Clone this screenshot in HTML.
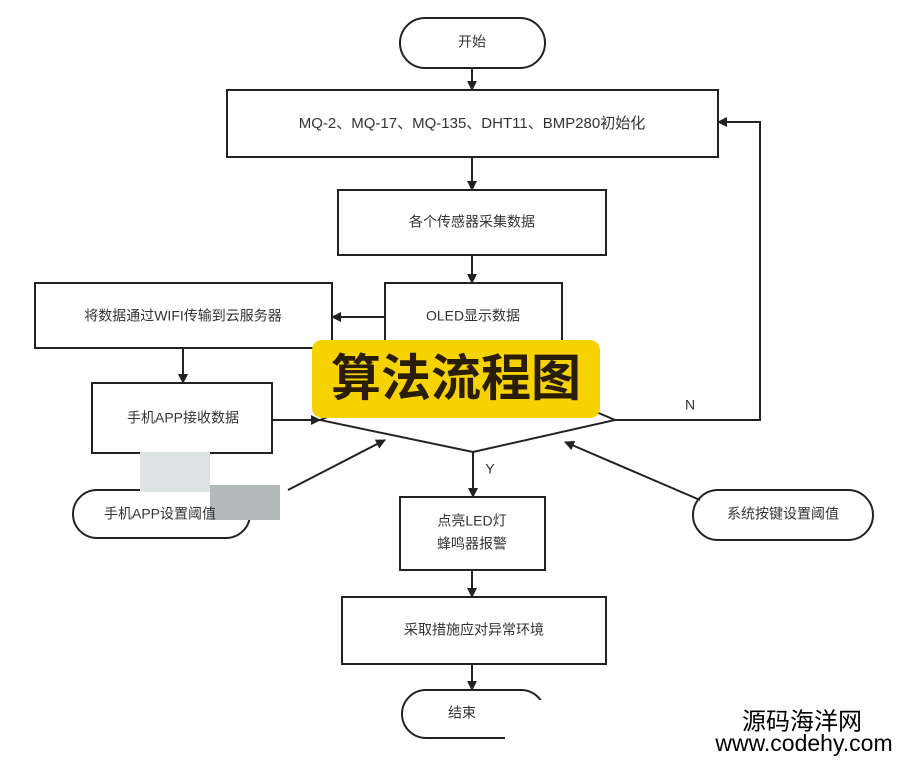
<!DOCTYPE html>
<html><head><meta charset="utf-8"><style>
body{margin:0;width:908px;height:764px;background:#fff;overflow:hidden;position:relative;font-family:"Liberation Sans","Noto Sans CJK SC",sans-serif}
svg{position:absolute;left:0;top:0}
.t{font-family:"Liberation Sans","Noto Sans CJK SC",sans-serif;font-size:14px;fill:#333;text-anchor:middle;dominant-baseline:middle}
</style></head><body>
<svg width="908" height="764" viewBox="0 0 908 764">
<defs><marker id="a" markerWidth="10" markerHeight="10" refX="9" refY="5" orient="auto" markerUnits="userSpaceOnUse"><path d="M0,0 L10,5 L0,10 z" fill="#222"/></marker></defs>
<g stroke="#222" stroke-width="2" fill="none">
<rect x="400" y="18" width="145" height="50" rx="25"/>
<rect x="227" y="90" width="491" height="67"/>
<rect x="338" y="190" width="268" height="65"/>
<rect x="385" y="283" width="177" height="67"/>
<rect x="35" y="283" width="297" height="65"/>
<rect x="92" y="383" width="180" height="70"/>
<path d="M320,420 L473,360 L615,420 L473,452 Z"/>
<rect x="400" y="497" width="145" height="73"/>
<rect x="342" y="597" width="264" height="67"/>
<rect x="402" y="690" width="143" height="48" rx="24"/>
<rect x="73" y="490" width="177" height="48" rx="24"/>
<rect x="693" y="490" width="180" height="50" rx="25"/>
<line x1="472" y1="68" x2="472" y2="90" marker-end="url(#a)"/>
<line x1="472" y1="157" x2="472" y2="190" marker-end="url(#a)"/>
<line x1="472" y1="255" x2="472" y2="283" marker-end="url(#a)"/>
<line x1="385" y1="317" x2="332" y2="317" marker-end="url(#a)"/>
<line x1="183" y1="348" x2="183" y2="383" marker-end="url(#a)"/>
<line x1="272" y1="420" x2="320" y2="420" marker-end="url(#a)"/>
<polyline points="615,420 760,420 760,122 718,122" marker-end="url(#a)"/>
<line x1="473" y1="452" x2="473" y2="497" marker-end="url(#a)"/>
<line x1="472" y1="570" x2="472" y2="597" marker-end="url(#a)"/>
<line x1="472" y1="664" x2="472" y2="690" marker-end="url(#a)"/>
<line x1="288" y1="490" x2="385" y2="440" marker-end="url(#a)"/>
<line x1="700" y1="500" x2="565" y2="442" marker-end="url(#a)"/>
</g>
<rect x="505" y="700" width="45" height="45" fill="#fff"/>
<rect x="140" y="452" width="70" height="40" fill="#dde2e2"/>
<rect x="210" y="485" width="70" height="35" fill="#b4babb"/>
<text class="t" x="472" y="43">开始</text>
<text class="t" x="472" y="124" style="font-size:15px">MQ-2、MQ-17、MQ-135、DHT11、BMP280初始化</text>
<text class="t" x="472" y="223">各个传感器采集数据</text>
<text class="t" x="473" y="317">OLED显示数据</text>
<text class="t" x="183" y="317">将数据通过WIFI传输到云服务器</text>
<text class="t" x="183" y="419">手机APP接收数据</text>
<text class="t" x="690" y="406">N</text>
<text class="t" x="490" y="470">Y</text>
<text class="t" x="472" y="522">点亮LED灯</text>
<text class="t" x="472" y="545">蜂鸣器报警</text>
<text class="t" x="474" y="631">采取措施应对异常环境</text>
<text class="t" x="462" y="714">结束</text>
<text class="t" x="160" y="515">手机APP设置阈值</text>
<text class="t" x="783" y="515">系统按键设置阈值</text>
<rect x="312" y="340" width="288" height="78" rx="10" fill="#f6d200"/>
<text x="456" y="382" text-anchor="middle" dominant-baseline="middle" style="font-family:'Noto Sans CJK SC',sans-serif;font-weight:bold;font-size:50px;fill:#2a1d08">算法流程图</text>
<rect x="700" y="705" width="208" height="59" fill="#fff"/>
<text x="802" y="723" text-anchor="middle" dominant-baseline="middle" style="font-family:'Noto Sans CJK SC',sans-serif;font-size:24px;fill:#000">源码海洋网</text>
<text x="804" y="745" text-anchor="middle" dominant-baseline="middle" style="font-family:'Liberation Sans',sans-serif;font-size:23px;fill:#000">www.codehy.com</text>
</svg>
</body></html>
